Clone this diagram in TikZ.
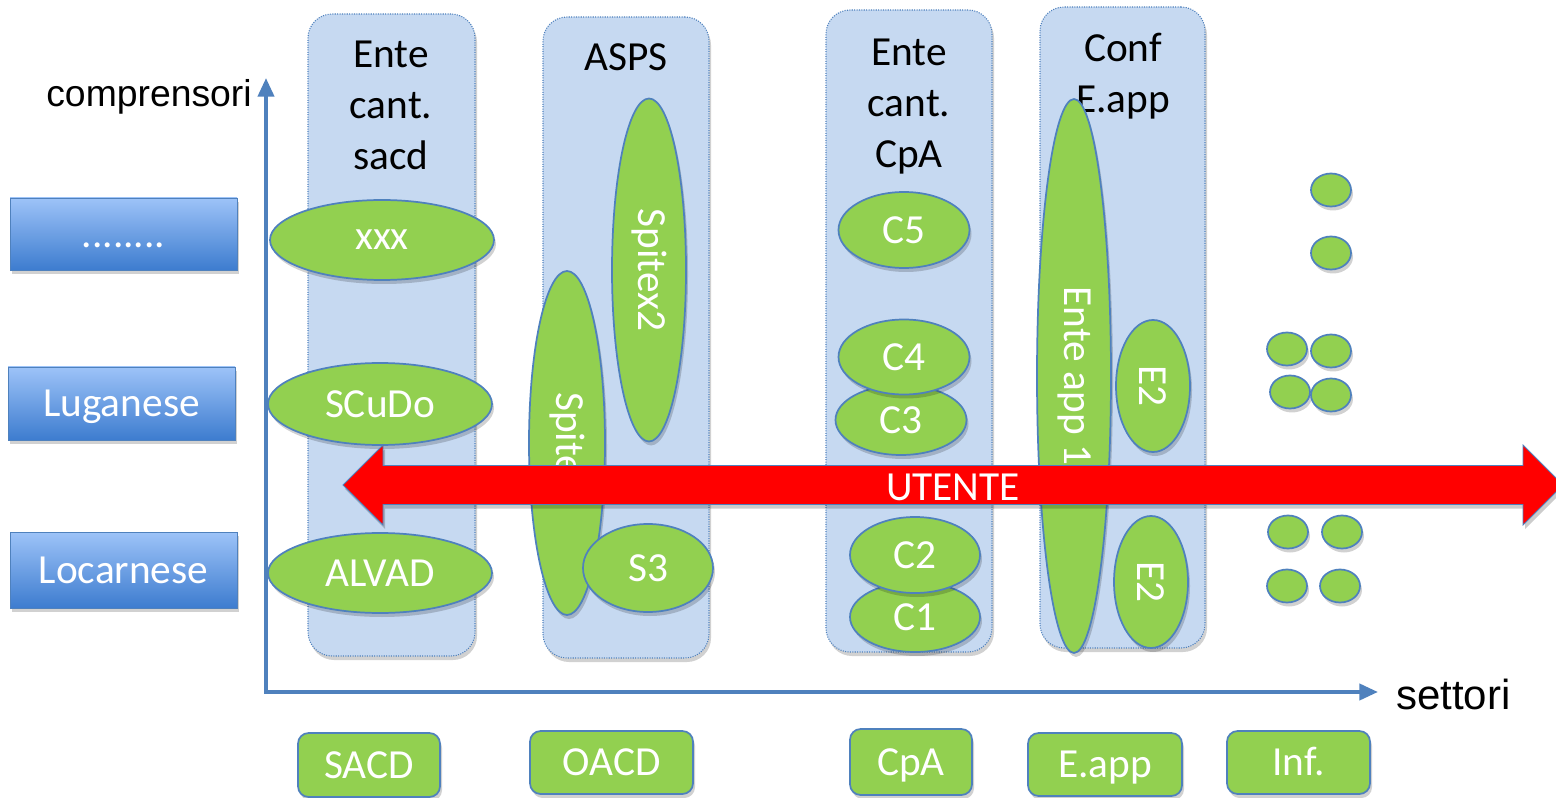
\documentclass[tikz,border=0pt]{standalone}
\usepackage{fontspec}
\setmainfont{Carlito}
\newfontfamily\arialfont{Liberation Sans}
\usetikzlibrary{shapes.geometric,shadows,arrows.meta}

\definecolor{panelfill}{HTML}{C6D9F1}
\definecolor{edgeblue}{HTML}{4F81BD}
\definecolor{leaf}{HTML}{92D050}
\definecolor{boxtop}{HTML}{9DC3F8}
\definecolor{boxbot}{HTML}{3D7CCF}
\definecolor{alarm}{HTML}{FF0000}

\newcommand{\txtbig}{\fontsize{31}{38}\selectfont}

\tikzset{
  softshade/.style={drop shadow={shadow xshift=1.5pt, shadow yshift=-3pt, fill=black, opacity=0.18}},
  panel/.style={rectangle, rounded corners=18pt, fill=panelfill, draw=edgeblue, densely dotted,
                line width=0.8pt, inner sep=0pt, softshade},
  hdr/.style={align=center, font=\txtbig, text=black, inner sep=0pt},
  blob/.style={ellipse, fill=leaf, draw=edgeblue, line width=1.3pt, inner sep=0pt,
               text=white, font=\txtbig, softshade},
  minidot/.style={blob, minimum width=30pt, minimum height=24.75pt},
  tag/.style={rectangle, rounded corners=8pt, fill=leaf, draw=edgeblue, line width=1.3pt,
              text=white, font=\txtbig, inner sep=0pt, text height=20pt, text depth=0pt, softshade},
  region/.style={rectangle, top color=boxtop, bottom color=boxbot, draw=edgeblue, line width=0.6pt,
                 text=white, font=\txtbig, inner sep=0pt, text height=20pt, text depth=0pt,
                 minimum width=170.25pt, softshade},
  axis/.style={draw=edgeblue, line width=3pt, line join=miter,
               {Triangle[length=14pt,width=12pt]}-{Triangle[length=14pt,width=12pt]}},
  userarrow/.style={fill=alarm, draw=edgeblue, line width=0.6pt, line join=miter,
                    drop shadow={shadow xshift=1.5pt, shadow yshift=-3pt, fill=black, opacity=0.2}},
}

\begin{document}
\begin{tikzpicture}[x=0.75pt, y=-0.75pt]
  \useasboundingbox[fill=white] (0,0) rectangle (1556,798);

  % sector panels
  \node[panel, minimum width=125.25pt, minimum height=481.5pt]  (p1) at (391.5,335)   {};
  \node[panel, minimum width=124.5pt,  minimum height=480.75pt] (p2) at (626,337.5)   {};
  \node[panel, minimum width=124.5pt,  minimum height=481.5pt]  (p3) at (909,331)     {};
  \node[panel, minimum width=123.75pt, minimum height=480.75pt] (p4) at (1122.5,327.5) {};

  % panel headings
  \node[hdr, anchor=north] (h1) at (391,41)  {Ente\\cant.\\sacd};
  \node[hdr, anchor=north] (h2) at (626,43)  {ASPS};
  \node[hdr, anchor=north] (h3) at (909,39)  {Ente\\cant.\\CpA};
  \node[hdr]               (h4) at (1123,76) {Conf\\E.app};

  % axes
  \coordinate (ytip)   at (266,78);
  \coordinate (origin) at (266,692);
  \coordinate (xtip)   at (1378,692);
  \draw[axis] (ytip) -- (origin) -- (xtip);
  \node[anchor=base east, inner sep=0pt, font=\arialfont\fontsize{28}{31}\selectfont]
    (ylab) at (252,107) {comprensori};
  \node[anchor=base west, inner sep=0pt, font=\arialfont\fontsize{31.5}{35}\selectfont]
    (xlab) at (1396,709) {settori};

  % districts
  \node[region, minimum height=54pt]    (r1) at (123.5,234)   {........};
  \node[region, minimum height=54.75pt] (r2) at (121.5,403.5) {Luganese};
  \node[region, minimum height=57pt]    (r3) at (123.5,570)   {Locarnese};

  % services
  \node[blob, minimum width=168pt, minimum height=60pt]   (xxx)   at (382,240) {xxx};
  \node[blob, minimum width=168pt, minimum height=61.5pt] (scudo) at (380,404) {SCuDo};
  \node[blob, minimum width=168pt, minimum height=60pt]   (alvad) at (380,573) {ALVAD};

  \node[blob, rotate=-90, minimum width=258pt, minimum height=57pt]      (sp1) at (567,443) {Spitex};
  \node[blob, rotate=-90, minimum width=257.25pt, minimum height=55.5pt] (sp2) at (649,270) {Spitex2};
  \node[blob, minimum width=97.5pt, minimum height=66pt] (s3) at (648,568) {S3};

  \node[blob, minimum width=98.25pt, minimum height=57pt]   (c5) at (904,230) {C5};
  \node[blob, minimum width=98.25pt, minimum height=52.5pt] (c3) at (901,420) {C3};
  \node[blob, minimum width=98.25pt, minimum height=56.25pt] (c4) at (904,357) {C4};
  \node[blob, minimum width=97.5pt, minimum height=52.5pt]  (c1) at (915,617) {C1};
  \node[blob, minimum width=97.5pt, minimum height=57pt]    (c2) at (915,555) {C2};

  \node[blob, rotate=-90, minimum width=415.5pt, minimum height=55.5pt] (ea1) at (1074,376) {Ente app 1};
  \node[blob, rotate=-90, minimum width=99pt, minimum height=55.5pt]    (e2a) at (1153,386) {E2};
  \node[blob, rotate=-90, minimum width=99pt, minimum height=55.5pt]    (e2b) at (1151,582) {E2};

  % further providers
  \node[minidot] (d1)  at (1331,190) {};
  \node[minidot] (d2)  at (1331,253) {};
  \node[minidot] (d3)  at (1287,349) {};
  \node[minidot] (d4)  at (1331,351) {};
  \node[minidot] (d5)  at (1290,392) {};
  \node[minidot] (d6)  at (1331,395) {};
  \node[minidot] (d7)  at (1288,532) {};
  \node[minidot] (d8)  at (1342,532) {};
  \node[minidot] (d9)  at (1287,586) {};
  \node[minidot] (d10) at (1340,586) {};

  % the user, across all sectors
  \filldraw[userarrow] (343,485) -- (383,445) -- (383,465.5) -- (1523,465.5) -- (1523,445)
    -- (1563,485) -- (1523,525) -- (1523,504.5) -- (383,504.5) -- (383,525) -- cycle;
  \node[text=white, font=\txtbig, inner sep=0pt] (utente) at (953,487) {UTENTE};

  % sectors
  \node[tag, minimum width=106.5pt,  minimum height=48pt]    (t1) at (369,765)    {SACD};
  \node[tag, minimum width=122.25pt, minimum height=47.25pt] (t2) at (611.5,762.5) {OACD};
  \node[tag, minimum width=91.5pt,   minimum height=49.5pt]  (t3) at (911,762)    {CpA};
  \node[tag, minimum width=115.5pt,  minimum height=47.25pt] (t4) at (1105,764.5) {E.app};
  \node[tag, minimum width=107.25pt, minimum height=47.25pt] (t5) at (1298.5,762.5) {Inf.};
\end{tikzpicture}
\end{document}
